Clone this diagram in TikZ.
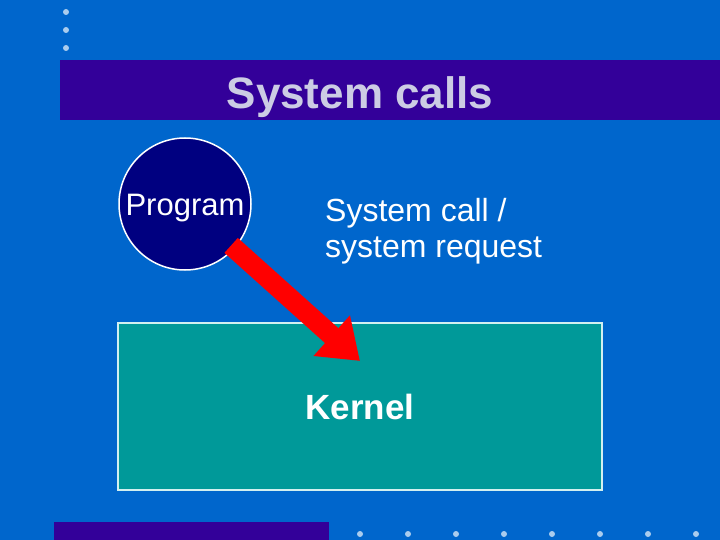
\documentclass[tikz,border=0pt]{standalone}
\usepackage{fontspec}
\setmainfont{Liberation Sans}
\usetikzlibrary{arrows.meta}
\definecolor{bgblue}{RGB}{0,102,204}
\definecolor{barviolet}{RGB}{51,0,153}
\definecolor{titletext}{RGB}{204,204,228}
\definecolor{dotblue}{RGB}{170,204,238}
\definecolor{prognavy}{RGB}{0,0,128}
\definecolor{kernelteal}{RGB}{0,153,153}
\definecolor{boxedge}{RGB}{210,240,240}
\definecolor{arrowred}{RGB}{255,0,0}
\tikzset{
  dotstyle/.style={circle, fill=dotblue, inner sep=0pt, minimum size=6pt},
  labeltext/.style={text=white, font=\fontsize{32}{38}\selectfont, inner sep=0pt, anchor=base west},
}
\begin{document}
\begin{tikzpicture}[x=1pt,y=-1pt]
\useasboundingbox (0,0) rectangle (720,540);
\fill[bgblue] (0,0) rectangle (720,540);
% top-left dots
\foreach \yy [count=\i] in {12,30,48} \node[dotstyle] (td\i) at (66,\yy) {};
% title bar
\fill[barviolet] (60,60) rectangle (720,120);
\node[text=titletext, font=\bfseries\fontsize{44}{50}\selectfont, anchor=base, inner sep=0pt] (title) at (360,109) {System calls};
% bottom bar and dots
\fill[barviolet] (54,522) rectangle (329,540);
\foreach \k in {0,...,7} \node[dotstyle] (bd\k) at (360+48*\k,534) {};
% kernel box
\node[draw=boxedge, line width=2pt, fill=kernelteal, minimum width=484pt, minimum height=167pt, inner sep=0pt, outer sep=0pt] (kernel) at (360,406.5) {};
\node[text=white, font=\bfseries\fontsize{35}{41}\selectfont, anchor=base, inner sep=0pt] (kerneltext) at (360,419) {Kernel};
% program circle
\node[circle, draw=white, line width=1.5pt, fill=prognavy, minimum size=132pt, inner sep=0pt, outer sep=0pt] (prog) at (185,204) {};
\node[text=white, font=\fontsize{31}{37}\selectfont, anchor=base, inner sep=0pt] (progtext) at (185,215) {Program};
% label
\node[labeltext] (lab1) at (325,222) {System call /};
\node[labeltext] (lab2) at (325,258) {system request};
% arrow
\coordinate (tip) at (360,361);
\draw[arrowred, line width=20pt, shorten <=-4pt, -{Triangle[width=52pt,length=38pt]}] (prog) -- (tip);
\end{tikzpicture}
\end{document}
